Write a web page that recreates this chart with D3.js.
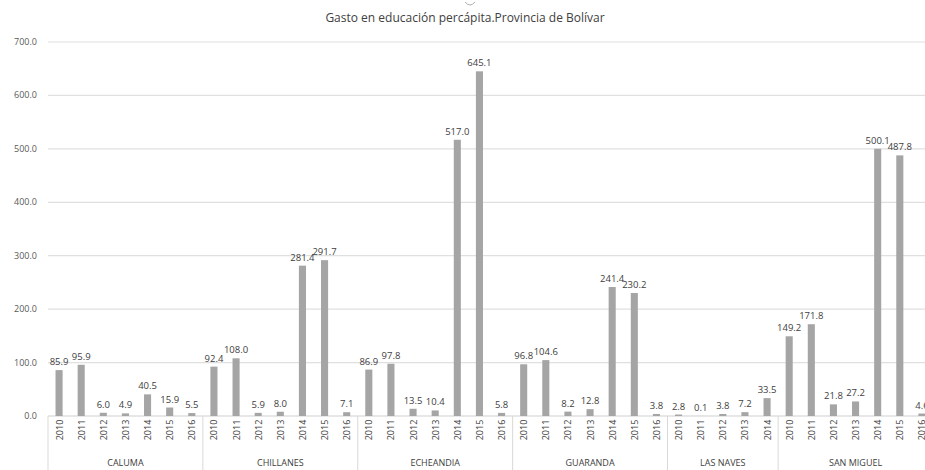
<!DOCTYPE html>
<html>
<head>
<meta charset="utf-8">
<script src="https://cdn.jsdelivr.net/npm/d3@7"></script>
<style>
  body { margin: 0; background: #fff; overflow: hidden; }
  svg { display: block; font-family: "Open Sans", "Noto Sans", sans-serif; }
</style>
</head>
<body>
<svg id="chart" width="925" height="470"></svg>
<script>
var title = 'Gasto en educación percápita.Provincia de Bolívar';
var cantons = ['CALUMA', 'CHILLANES', 'ECHEANDIA', 'GUARANDA', 'LAS NAVES', 'SAN MIGUEL'];
var years = [
  ['2010', '2011', '2012', '2013', '2014', '2015', '2016'],
  ['2010', '2011', '2012', '2013', '2014', '2015', '2016'],
  ['2010', '2011', '2012', '2013', '2014', '2015', '2016'],
  ['2010', '2011', '2012', '2013', '2014', '2015', '2016'],
  ['2010', '2011', '2012', '2013', '2014'],
  ['2010', '2011', '2012', '2013', '2014', '2015', '2016']
];
var values = [
  [85.9, 95.9, 6.0, 4.9, 40.5, 15.9, 5.5],
  [92.4, 108.0, 5.9, 8.0, 281.4, 291.7, 7.1],
  [86.9, 97.8, 13.5, 10.4, 517.0, 645.1, 5.8],
  [96.8, 104.6, 8.2, 12.8, 241.4, 230.2, 3.8],
  [2.8, 0.1, 3.8, 7.2, 33.5],
  [149.2, 171.8, 21.8, 27.2, 500.1, 487.8, 4.6]
];
var yTicks = [0, 100, 200, 300, 400, 500, 600, 700];

(function () {
  // flatten to one row per bar
  var rows = [];
  cantons.forEach(function (c, gi) {
    years[gi].forEach(function (yr, i) {
      rows.push({ key: c + '|' + yr, canton: c, year: yr, value: values[gi][i], first: i === 0 });
    });
  });

  var svg = d3.select('#chart');
  var plotL = 48, plotR = 933, plotT = 42, plotB = 416;

  var x = d3.scaleBand().domain(rows.map(function (d) { return d.key; }))
    .range([plotL, plotR]).paddingInner(0.68).paddingOuter(0.34);
  var step = x.step();
  var y = d3.scaleLinear().domain([0, 700]).range([plotB, plotT]);

  svg.append('text')
    .attr('x', 465).attr('y', 22)
    .attr('text-anchor', 'middle')
    .attr('font-size', 12).attr('fill', '#404040')
    .text(title);

  // gridlines
  svg.append('g').selectAll('line').data(yTicks).enter().append('line')
    .attr('x1', plotL).attr('x2', 925)
    .attr('y1', function (d) { return y(d); }).attr('y2', function (d) { return y(d); })
    .attr('stroke', function (d) { return d === 0 ? '#d0d0d0' : '#e0e0e0'; })
    .attr('stroke-width', 1.2);

  svg.append('g').selectAll('text').data(yTicks).enter().append('text')
    .attr('x', 37).attr('y', function (d) { return y(d) + 3; })
    .attr('text-anchor', 'end')
    .attr('font-size', 9).attr('fill', '#595959')
    .text(function (d) { return d3.format('.1f')(d); });

  // bars
  svg.append('g').selectAll('rect').data(rows).enter().append('rect')
    .attr('x', function (d) { return x(d.key); })
    .attr('width', x.bandwidth())
    .attr('y', function (d) { return y(d.value); })
    .attr('height', function (d) { return y(0) - y(d.value); })
    .attr('fill', '#a5a5a5');

  svg.append('g').selectAll('text').data(rows).enter().append('text')
    .attr('x', function (d) { return x(d.key) + x.bandwidth() / 2; })
    .attr('y', function (d) { return y(d.value) - 5; })
    .attr('text-anchor', 'middle')
    .attr('font-size', 9.5).attr('fill', '#404040')
    .text(function (d) { return d3.format('.1f')(d.value); });

  // year labels, rotated
  svg.append('g').selectAll('text').data(rows).enter().append('text')
    .attr('transform', function (d) {
      return 'translate(' + (x(d.key) + x.bandwidth() / 2 + 3.5) + ',' + (plotB + 14) + ') rotate(-90)';
    })
    .attr('text-anchor', 'middle')
    .attr('font-size', 9).attr('fill', '#404040')
    .text(function (d) { return d.year; });

  // group separators and canton names
  var starts = rows.filter(function (d) { return d.first; });
  svg.append('g').selectAll('line').data(starts).enter().append('line')
    .attr('x1', function (d) { return x(d.key) - step * 0.34; })
    .attr('x2', function (d) { return x(d.key) - step * 0.34; })
    .attr('y1', plotB).attr('y2', 470)
    .attr('stroke', '#d9d9d9').attr('stroke-width', 1);

  svg.append('g').selectAll('text').data(cantons).enter().append('text')
    .attr('x', function (c, gi) {
      var a = x(c + '|' + years[gi][0]) - step * 0.34;
      var b = a + years[gi].length * step;
      return (a + b) / 2;
    })
    .attr('y', 466)
    .attr('text-anchor', 'middle')
    .attr('font-size', 9).attr('fill', '#404040')
    .text(function (c) { return c; });

  // small handle arc over the title
  svg.append('path')
    .attr('d', 'M465,2 Q470,8 475,2')
    .attr('fill', 'none').attr('stroke', '#b0b0b0').attr('stroke-width', 1);
})();
</script>
</body>
</html>
